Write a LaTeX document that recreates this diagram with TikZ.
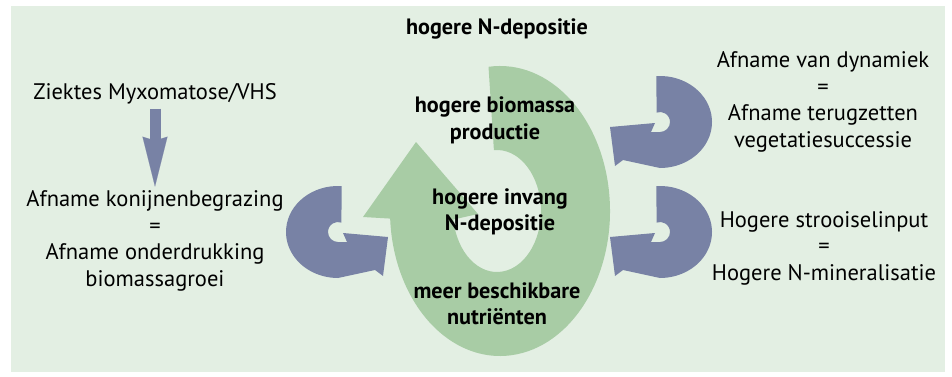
\documentclass[tikz,border=0pt]{standalone}
\usepackage{fontspec}
\setmainfont{PT Sans}
\usetikzlibrary{arrows.meta,positioning}
\definecolor{bgmint}{RGB}{227,239,227}
\definecolor{leafgreen}{RGB}{168,204,165}
\definecolor{slateblue}{RGB}{120,130,165}
%% curled arrow, local frame, centre of the curl at (0,0)
\newcommand{\curlshape}{(94:52 and 46)
  arc[start angle=94, end angle=-90, x radius=52, y radius=46]
  -- (-37,-38) -- (-45,-44) -- (-50,-5) -- (-5,-1) -- (-9,-10) -- (0,-10)
  arc[start angle=-90, end angle=110, radius=10] -- cycle}

\begin{document}
\begin{tikzpicture}[
  x=1pt, y=1pt,
  txt/.style={font=\fontsize{22.5}{26.5}\selectfont, align=center, inner sep=4pt},
  boldtxt/.style={font=\fontsize{22.2}{26.5}\selectfont\bfseries, align=center},
  curl/.style={fill=slateblue},
  drop/.style={line width=11pt, slateblue,
               -{Stealth[length=50pt, width=25pt, inset=4pt, line width=0.1pt]}}
]
\useasboundingbox (0,0) rectangle (952,376);

%% Background panel
\fill[bgmint] (11,4) rectangle (945,370);

%% Big green cycle arrow
\fill[leafgreen] (500,165) ++(96:110 and 145)
  arc[start angle=96, end angle=-177, x radius=110, y radius=145]
  -- (363,159) -- (416,234) -- (478,162) -- (453.4,156.5)
  arc[start angle=188, end angle=454, x radius=44, y radius=61] -- cycle;

%% Blue curled arrows
\begin{scope}[shift={(660,254)}]
  \fill[curl] \curlshape;
\end{scope}
\begin{scope}[shift={(660,144)}]
  \fill[curl] \curlshape;
\end{scope}
\begin{scope}[shift={(338,144)}, xscale=-1]
  \fill[curl] \curlshape;
\end{scope}

%% Texts
\node[boldtxt] (ndep) at (497,347) {hogere N-depositie};
\node[boldtxt] (bio)  at (495,255.5) {hogere biomassa\\productie};
\node[boldtxt] (inv)  at (500,164) {hogere invang\\N-depositie};
\node[boldtxt] (nutr) at (497,72) {meer beschikbare\\nutriënten};

\node[txt] (ziek) at (155,282) {Ziektes Myxomatose/VHS};
\node[txt] (graz) at (155,135)
  {Afname konijnenbegrazing\\=\\Afname onderdrukking\\biomassagroei};
\node[txt] (dyn) at (823,274)
  {Afname van dynamiek\\=\\Afname terugzetten\\vegetatiesuccessie};
\node[txt] (strooi) at (824,128)
  {Hogere strooiselinput\\=\\Hogere N-mineralisatie};

\draw[drop] (ziek.south) -- (graz.north);

\end{tikzpicture}
\end{document}
